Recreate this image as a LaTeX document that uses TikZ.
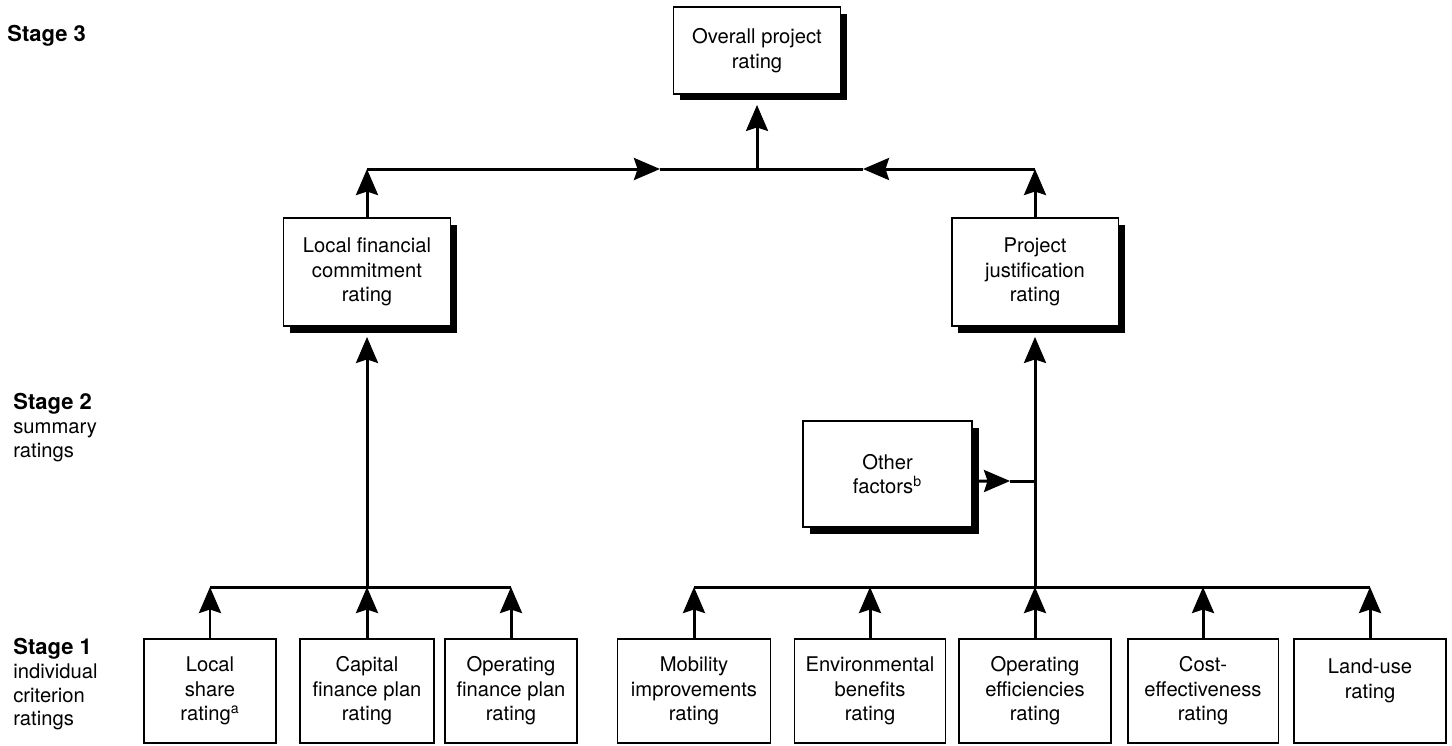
\documentclass[tikz,border=0pt]{standalone}
\usepackage{fontspec}
\setmainfont{TeX Gyre Heros}
\usetikzlibrary{arrows.meta,positioning,shadows}
\tikzset{
    %Define standard arrow tip
    >={Stealth[length=0.52cm,width=0.44cm,inset=0.07cm]},
    %Define style for stage 1 boxes
    criterion/.style={
           rectangle,
           draw=black, line width=1.1pt,
           fill=white,
           inner sep=0pt,
           minimum width=3.04cm,
           minimum height=2.08cm,
           align=center,
           font=\fontsize{11.5}{14}\selectfont},
    %Define style for shadowed rating boxes
    summary/.style={
           criterion,
           minimum width=3.34cm,
           minimum height=2.16cm,
           drop shadow={shadow xshift=0.13cm, shadow yshift=-0.13cm,
                        fill=black, opacity=1}},
    stagelabel/.style={
           anchor=north west,
           inner sep=0pt,
           align=left,
           font=\fontsize{11.5}{13.5}\selectfont},
    % Define arrow style
    feed/.style={
           ->,
           line width=1.7pt},
    joint/.style={
           line width=1.7pt}
}
\begin{document}
\begin{tikzpicture}[x=0.02cm,y=-0.02cm]
    \useasboundingbox (0,0) rectangle (1452,745);
    %stage labels
    \node[stagelabel] (stage3) at (7,25) {\fontsize{12.5}{13.5}\selectfont\bfseries Stage 3};
    \node[stagelabel] (stage2) at (13,393)
        {{\fontsize{12.5}{13.5}\selectfont\bfseries Stage 2}\\summary\\ratings};
    \node[stagelabel] (stage1) at (13,638)
        {{\fontsize{12.5}{13.5}\selectfont\bfseries Stage 1}\\individual\\criterion\\ratings};
    %stage 3 and 2 nodes
    \node[summary, minimum height=1.74cm] (overall) at (757,50.5) {Overall project\\rating};
    \node[summary] (local) at (367,272) {Local financial\\commitment\\rating};
    \node[summary] (just) at (1035,272) {Project\\justification\\rating};
    \node[summary, minimum width=3.38cm, minimum height=2.12cm] (other) at (887.5,474)
        {Other\\factors\textsuperscript{b}};
    %stage 1 nodes
    \node[criterion, minimum width=2.64cm] (share) at (210,691) {Local\\share\\rating\textsuperscript{a}};
    \node[criterion, minimum width=2.68cm] (capital) at (367,691) {Capital\\finance plan\\rating};
    \node[criterion, minimum width=2.64cm] (opfin) at (511,691) {Operating\\finance plan\\rating};
    \node[criterion, minimum width=3.06cm] (mobility) at (694,691) {Mobility\\improvements\\rating};
    \node[criterion, minimum width=3.02cm] (env) at (870,691) {Environmental\\benefits\\rating};
    \node[criterion] (opeff) at (1035,691) {Operating\\efficiencies\\rating};
    \node[criterion, minimum width=3.02cm] (cost) at (1203,691) {Cost-\\effectiveness\\rating};
    \node[criterion] (land) at (1370,691) {Land-use\\rating\\\mbox{}};
    %junctions
    \coordinate (jtop) at (757,169);
    \coordinate (mL) at (660,169);
    \coordinate (mR) at (863,169);
    \coordinate (jlow) at (367,587);
    \coordinate (otip) at (1010,481);
    %stage 1 to stage 2
    \foreach \n in {share,capital,opfin,mobility,env,opeff,cost,land}
        \draw[feed] (\n.north) -- (\n.north |- jlow);
    \draw[joint] (share.north |- jlow) -- (opfin.north |- jlow);
    \draw[joint] (mobility.north |- jlow) -- (land.north |- jlow);
    \draw[feed, shorten >=0.2cm] (capital.north |- jlow) -- (local.south);
    \draw[feed, shorten >=0.2cm] (opeff.north |- jlow) -- (just.south);
    \draw[feed] ([yshift=-0.14cm]other.east) -- (otip);
    \draw[joint] (otip) -- (otip -| just.south);
    %stage 2 to stage 3
    \draw[feed] (local.north) -- (local.north |- jtop);
    \draw[feed] (just.north) -- (just.north |- jtop);
    \draw[feed] (local.north |- jtop) -- (mL);
    \draw[feed] (just.north |- jtop) -- (mR);
    \draw[joint] (mL) -- (mR);
    \draw[feed, shorten >=0.2cm] (jtop) -- (overall.south);
\end{tikzpicture}
\end{document}
